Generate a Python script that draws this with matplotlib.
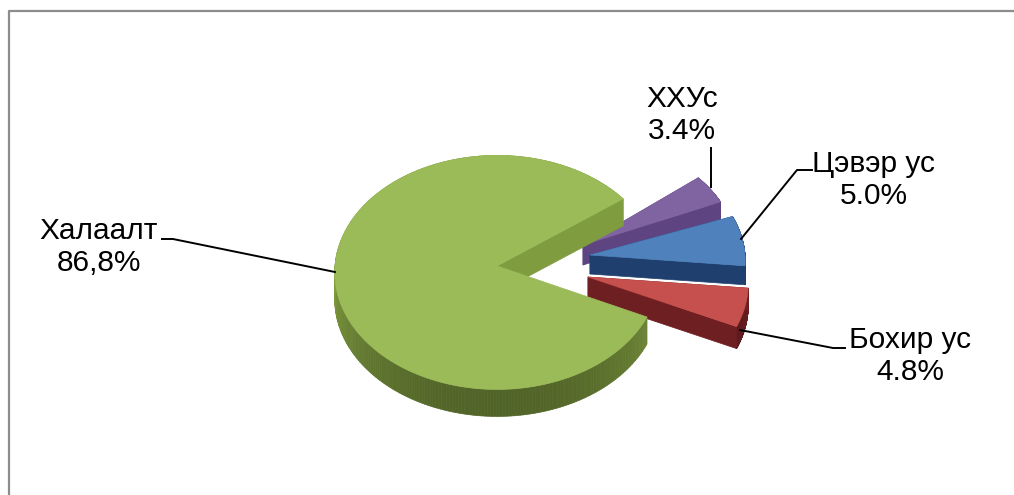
import numpy as np
import matplotlib
matplotlib.use('Agg')
import matplotlib.pyplot as plt
from matplotlib.collections import PolyCollection
from matplotlib.patches import Polygon

# chart values (percent), order is clockwise from the top of the gap
names = ['ХХУс', 'Цэвэр ус', 'Бохир ус', 'Халаалт']
values = [3.4, 5.0, 4.8, 86.8]
labels = ['ХХУс\n3.4%', 'Цэвэр ус\n5.0%', 'Бохир ус\n4.8%', 'Халаалт\n86,8%']

# style, all in pixels of the 1014x495 picture
top_cols = ['#8064A2', '#4F81BD', '#C5504D', '#9BBB59']
side_cols = ['#5E4480', '#1F3F6E', '#6E1F22', '#7F9C3E']
radius = [153, 155, 160, 162]
depth = [20, 19, 22, 27]
shift = [(86, -21), (93, -11), (91, 11), (0, 0)]
cx, cy = 497, 266
squash = 0.72
persp = 0.055
start = 38.5
green_start = 36.5
# small slices look wider than their share in the original
spread = [1.26, 1.45, 1.12]
turn = [0.5, -2.5, -2.5]
green_spread = 1.3


def project(ang, r, off, dz=0):
    a = np.radians(ang)
    X = r * np.cos(a) / 162
    Y = -r * np.sin(a) / 162
    s = 1 / (1 - persp * Y)
    return (cx + off[0] + 162 * X * s, cy + off[1] + 162 * squash * Y * s + dz)


fig = plt.figure(figsize=(10.14, 4.95), dpi=100)
ax = fig.add_axes([0, 0, 1, 1])
ax.set_xlim(0, 1014)
ax.set_ylim(495, 0)
ax.axis('off')

# chart frame, only left and top are in the crop
ax.plot([9, 9, 1014], [495, 11, 11], color='#8C8C8C', lw=1.6)

# slice angles from the values
spans = []
a = start
for v, sp, tn in zip(values[:3], spread, turn):
    spans.append((a + tn, a - v * 3.6 * sp + tn))
    a = a - v * 3.6 * sp
gap = sum(values[:3]) * 3.6 * green_spread
spans.append((green_start - gap, green_start - 360))

# small ones first, green goes on top of the red wall
for i in [0, 1, 2, 3]:
    a0, a1 = spans[i]
    t = np.linspace(a0, a1, 300)
    px, py = project(t, radius[i], shift[i])
    ax0, ay0 = project(0, 0, shift[i])
    # rim, darker towards the bottom of the pie
    quads = []
    cols = []
    base = np.array(matplotlib.colors.to_rgb(side_cols[i]))
    for j in range(len(t) - 1):
        quads.append([(px[j], py[j]), (px[j + 1], py[j + 1]),
                      (px[j + 1], py[j + 1] + depth[i]), (px[j], py[j] + depth[i])])
        sn = -np.sin(np.radians(t[j]))
        cols.append(base * (1 - 0.36 * max(sn, 0)))
    ax.add_collection(PolyCollection(quads, facecolors=cols, edgecolors=cols, lw=0.5))
    # cut walls, the green one only shows on its upper edge
    ends = [-1] if i == 3 else [0, -1]
    for e in ends:
        ax.add_patch(Polygon([(ax0, ay0), (px[e], py[e]), (px[e], py[e] + depth[i]),
                              (ax0, ay0 + depth[i])], fc=side_cols[i], ec=side_cols[i], lw=0.5))
    top = [(ax0, ay0)] + list(zip(px, py))
    ax.add_patch(Polygon(top, fc=top_cols[i], ec=top_cols[i], lw=0.5))

# leader lines
ax.plot([711, 711], [187, 148], color='black', lw=1.4)
ax.plot([741, 797, 812], [239, 170, 170], color='black', lw=1.4)
ax.plot([740, 833, 845], [330, 348, 348], color='black', lw=1.4)
ax.plot([335, 173, 162], [272, 239, 239], color='black', lw=1.4)

# labels
font = ['Liberation Sans', 'DejaVu Sans']
ax.text(682, 115, labels[0], ha='center', va='center', fontsize=21.5, family=font, linespacing=1.2)
ax.text(873.5, 180, labels[1], ha='center', va='center', fontsize=21.5, family=font, linespacing=1.2)
ax.text(910, 356, labels[2], ha='center', va='center', fontsize=21.5, family=font, linespacing=1.2)
ax.text(99, 247, labels[3], ha='center', va='center', fontsize=21.5, family=font, linespacing=1.2)

fig.savefig('out.png', dpi=100)
